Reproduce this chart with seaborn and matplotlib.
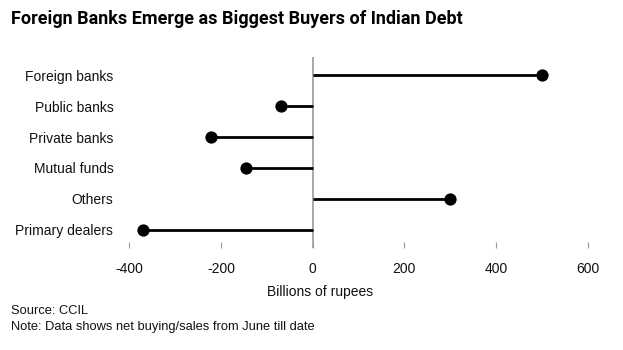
import matplotlib
matplotlib.use("Agg")
import matplotlib.pyplot as plt
import seaborn as sns
import pandas as pd

categories = ["Foreign banks", "Public banks", "Private banks", "Mutual funds", "Others", "Primary dealers"]
values = [500, -70, -222, -146, 300, -370]
xticks = [-400, -200, 0, 200, 400, 600]

df = pd.DataFrame({"category": categories, "value": values})

sns.set_theme(style="white")
plt.rcParams['font.family'] = ['Liberation Sans', 'DejaVu Sans']

fig = plt.figure(figsize=(6.23, 3.5), dpi=100)
ax = fig.add_axes([129.3/623, 1-248/350, 458.4/623, 191/350])

ypos = list(range(len(categories)))
ax.axvline(0, color="#999999", lw=1.2, zorder=1)
ax.hlines(ypos, 0, df["value"], color="black", lw=2.0, zorder=2)
sns.scatterplot(x=df["value"], y=ypos, ax=ax, color="black", s=78,
                edgecolor="black", linewidth=0, zorder=3, clip_on=False, legend=False)

ax.set_xlim(-400, 600)
ax.set_ylim(5.6, -0.6)
ax.set_yticks(ypos)
ax.set_yticklabels(categories)
ax.set_xticks(xticks)
ax.set_xticklabels([str(t) for t in xticks])
for s in ax.spines.values():
    s.set_visible(False)
ax.tick_params(axis="y", length=0, pad=11.5, labelsize=10, labelcolor="#111111")
ax.tick_params(axis="x", direction="in", length=4.5, width=0.8, color="#999999",
               pad=10, labelsize=10, labelcolor="#111111", bottom=True)
ax.set_xlabel("")
ax.set_ylabel("")

fig.text(320/623, 1-292/350, "Billions of rupees", ha="center", va="center", fontsize=10, color="#111111")
fig.text(11/623, 1-10/350, "Foreign Banks Emerge as Biggest Buyers of Indian Debt",
         ha="left", va="top", fontsize=13.0, fontweight="bold", color="black",
         family=['Roboto', 'Liberation Sans', 'DejaVu Sans'])
fig.text(11/623, 1-311/350, "Source: CCIL", ha="left", va="center", fontsize=9.3, color="#111111")
fig.text(11/623, 1-327/350, "Note: Data shows net buying/sales from June till date",
         ha="left", va="center", fontsize=9.3, color="#111111")

fig.savefig("out.png", dpi=100)
